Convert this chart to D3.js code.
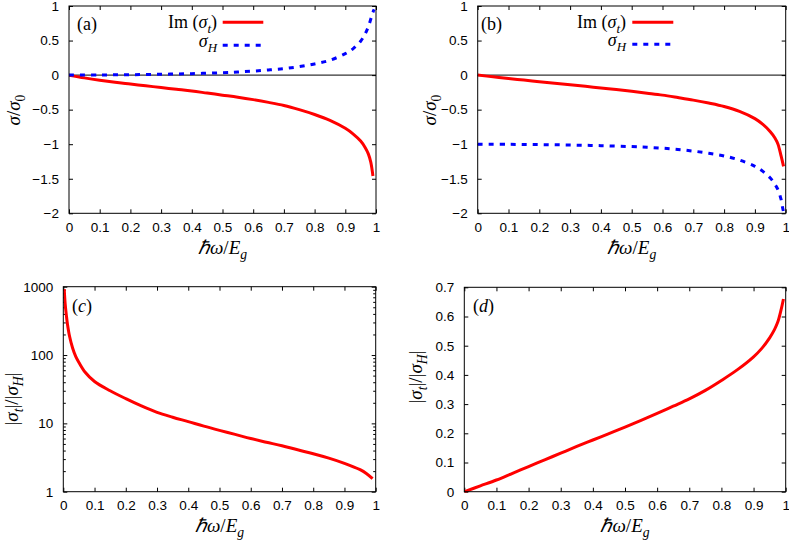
<!DOCTYPE html>
<html><head><meta charset="utf-8">
<script src="https://cdn.jsdelivr.net/npm/d3@7"></script>
<style>
body{margin:0;background:#fff} svg{display:block}
.tk text{font-family:"Liberation Sans", Arial, Helvetica, sans-serif; font-size:13.5px; fill:#000;}
.mt{font-family:"Liberation Serif", "Times New Roman", serif; fill:#000;}
</style>
</head><body>
<svg id="c" width="789" height="542"></svg>
<script>
// ---- data ----
const xTickVals = [0,0.1,0.2,0.3,0.4,0.5,0.6,0.7,0.8,0.9,1];
const xTickLabels = ["0","0.1","0.2","0.3","0.4","0.5","0.6","0.7","0.8","0.9","1"];
const yTickValsAB = [1,0.5,0,-0.5,-1,-1.5,-2];
const yTickLabelsAB = ["1","0.5","0","\u22120.5","\u22121","\u22121.5","\u22122"];
const yTickValsC = [1,10,100,1000];
const yTickLabelsC = ["1","10","100","1000"];
const yTickValsD = [0,0.1,0.2,0.3,0.4,0.5,0.6,0.7];
const yTickLabelsD = ["0","0.1","0.2","0.3","0.4","0.5","0.6","0.7"];

// panel (a)
const xImA = [0,0.05,0.1,0.15,0.2,0.25,0.3,0.35,0.4,0.45,0.5,0.55,0.6,0.65,0.7,0.75,0.8,0.85,0.9,0.925,0.95,0.965,0.975,0.983,0.99];
const imA  = [0,-0.04,-0.075,-0.105,-0.13,-0.155,-0.18,-0.205,-0.23,-0.26,-0.29,-0.32,-0.355,-0.395,-0.44,-0.5,-0.57,-0.655,-0.77,-0.85,-0.955,-1.05,-1.14,-1.26,-1.46];
const xHA  = [0,0.1,0.2,0.3,0.4,0.5,0.55,0.6,0.65,0.7,0.75,0.8,0.85,0.9,0.925,0.95,0.965,0.975,0.985,0.99,0.994];
const hA   = [0,0.002,0.006,0.012,0.021,0.035,0.045,0.058,0.074,0.093,0.122,0.162,0.215,0.31,0.38,0.49,0.6,0.7,0.84,0.91,0.95];
// panel (b)
const xImB = [0,0.05,0.1,0.15,0.2,0.25,0.3,0.35,0.4,0.45,0.5,0.55,0.6,0.65,0.7,0.75,0.8,0.85,0.9,0.925,0.95,0.965,0.975,0.985,0.993];
const imB  = [0,-0.025,-0.05,-0.072,-0.095,-0.118,-0.14,-0.163,-0.187,-0.21,-0.235,-0.262,-0.29,-0.325,-0.362,-0.405,-0.455,-0.525,-0.63,-0.71,-0.82,-0.91,-1.0,-1.17,-1.32];
const xHB  = [0,0.1,0.2,0.3,0.4,0.5,0.55,0.6,0.65,0.7,0.75,0.8,0.85,0.9,0.925,0.95,0.965,0.975,0.985,0.99,0.994];
const hB   = [-1,-1.002,-1.006,-1.012,-1.021,-1.035,-1.045,-1.058,-1.075,-1.1,-1.13,-1.17,-1.23,-1.32,-1.39,-1.49,-1.58,-1.66,-1.8,-1.92,-2.0];
// panel (c)
const xRC = [0.003,0.006,0.01,0.013,0.02,0.03,0.04,0.05,0.07,0.1,0.15,0.2,0.25,0.3,0.35,0.4,0.45,0.5,0.55,0.6,0.65,0.7,0.75,0.8,0.85,0.9,0.95,0.97,0.99];
const rC  = [920,560,375,290,188,126,95,78,56,41,30,23,18,14.5,12.3,10.6,9.1,7.9,6.9,6.0,5.3,4.7,4.1,3.6,3.1,2.6,2.1,1.85,1.55];
// panel (d)
const xRD = [0,0.05,0.1,0.15,0.2,0.25,0.3,0.35,0.4,0.45,0.5,0.55,0.6,0.65,0.7,0.75,0.8,0.85,0.9,0.925,0.95,0.965,0.975,0.985,0.993];
const rD  = [0,0.02,0.04,0.063,0.086,0.109,0.132,0.155,0.177,0.199,0.221,0.244,0.268,0.293,0.318,0.347,0.381,0.418,0.462,0.49,0.527,0.555,0.58,0.62,0.66];

const RED = "#ff0000", BLUE = "#0000ff";
const svg = d3.select("#c");

function zip(xs, ys){ return xs.map((x,i)=>[x, ys[i]]); }

// math text helper: parts = [[text, italic, sub], ...]
function mathText(g, parts, size){
  const t = g.append("text").attr("class","mt").style("font-size", size+"px");
  let cur = 0;
  parts.forEach(p=>{
    const [txt, it, sub] = p;
    const target = sub ? size*0.28 : 0;
    t.append("tspan").text(txt)
      .style("font-style", it ? "italic" : "normal")
      .style("font-size", (sub ? size*0.72 : size)+"px")
      .attr("dy", target - cur);
    cur = target;
  });
  return t;
}

let clipId = 0;
function panel(cfg){
  const {l,r,t,b} = cfg.frame;
  const x = d3.scaleLinear().domain([0,1]).range([l,r]);
  const y = cfg.log ? d3.scaleLog().domain(cfg.yDomain).range([b,t]) : d3.scaleLinear().domain(cfg.yDomain).range([b,t]);
  const g = svg.append("g");

  if (cfg.zero) g.append("line").attr("x1",l).attr("x2",r).attr("y1",y(0)).attr("y2",y(0)).attr("stroke","#000").attr("stroke-width",1);

  const fmtX = d => xTickLabels[xTickVals.indexOf(d)];
  const fmtY = d => cfg.yLabels[cfg.yTicks.indexOf(d)];
  const styleAxis = sel => {
    sel.select(".domain").remove();
    sel.attr("class","tk").attr("font-family",null).attr("font-size",null);
    sel.selectAll(".tick line").attr("stroke","#000").attr("stroke-width",1);
  };
  g.append("g").attr("transform",`translate(0,${b})`)
    .call(d3.axisBottom(x).tickValues(xTickVals).tickSize(-4).tickPadding(9).tickFormat(fmtX)).call(styleAxis);
  g.append("g").attr("transform",`translate(0,${t})`)
    .call(d3.axisTop(x).tickValues(xTickVals).tickSize(-4).tickFormat("")).call(styleAxis);
  g.append("g").attr("transform",`translate(${l},0)`)
    .call(d3.axisLeft(y).tickValues(cfg.yTicks).tickSize(-4).tickPadding(10).tickFormat(fmtY)).call(styleAxis);
  g.append("g").attr("transform",`translate(${r},0)`)
    .call(d3.axisRight(y).tickValues(cfg.yTicks).tickSize(-4).tickFormat("")).call(styleAxis);
  if (cfg.log){
    const minor = [];
    [1,10,100].forEach(dec=>{ for(let k=2;k<=9;k++) minor.push(dec*k); });
    g.append("g").attr("transform",`translate(${l},0)`)
      .call(d3.axisLeft(y).tickValues(minor).tickSize(-2.5).tickFormat("")).call(styleAxis);
    g.append("g").attr("transform",`translate(${r},0)`)
      .call(d3.axisRight(y).tickValues(minor).tickSize(-2.5).tickFormat("")).call(styleAxis);
  }

  const cid = "clip"+(clipId++);
  svg.append("clipPath").attr("id",cid).append("rect").attr("x",l).attr("y",t-1).attr("width",r-l+1).attr("height",b-t+2);
  const line = d3.line().x(d=>x(d[0])).y(d=>y(d[1])).curve(d3.curveCatmullRom.alpha(0.5));
  cfg.series.forEach(s=>{
    g.append("path").attr("clip-path",`url(#${cid})`).datum(s.data).attr("d",line)
      .attr("fill","none").attr("stroke",s.color).attr("stroke-width",3)
      .attr("stroke-dasharray", s.dash ? "5,6" : null).attr("stroke-linejoin","round");
  });

  g.append("rect").attr("x",l).attr("y",t).attr("width",r-l).attr("height",b-t)
    .attr("fill","none").attr("stroke","#000").attr("stroke-width",1);

  mathText(g, cfg.plabel, 18).attr("x", cfg.plabelPos[0]).attr("y", cfg.plabelPos[1]);

  mathText(g, [["\u210F",true],["\u03C9",true],["/",false],["E",true],["g",true,true]], 19)
    .attr("x", (l+r)/2).attr("y", cfg.xTitleY).attr("text-anchor","middle");
  const yt = g.append("g").attr("transform",`translate(${cfg.yTitle[0]},${cfg.yTitle[1]}) rotate(-90)`);
  mathText(yt, cfg.yTitleParts, 19).attr("x",0).attr("y",0).attr("text-anchor","middle");

  if (cfg.legend){
    const [tx, ly1, ly2, lx1, lx2] = cfg.legend;
    mathText(g, [["Im",false],[" (",false],["\u03C3",true],["t",true,true],[")",false]], 18)
      .attr("x", tx).attr("y", ly1+6).attr("text-anchor","end");
    g.append("line").attr("x1",lx1).attr("x2",lx2).attr("y1",ly1).attr("y2",ly1).attr("stroke",RED).attr("stroke-width",3);
    mathText(g, [["\u03C3",true],["H",true,true]], 18)
      .attr("x", tx).attr("y", ly2+2).attr("text-anchor","end");
    g.append("line").attr("x1",lx1).attr("x2",lx2).attr("y1",ly2).attr("y2",ly2).attr("stroke",BLUE).attr("stroke-width",3).attr("stroke-dasharray","5,6");
  }
}

const sigTitle = [["\u03C3",true],["/",false],["\u03C3",true],["0",false,true]];
const ratioTitle = [["|",false],["\u03C3",true],["t",true,true],["|",false],["/",false],["|",false],["\u03C3",true],["H",true,true],["|",false]];

panel({frame:{l:69,r:376,t:6,b:213.3}, yDomain:[-2,1], yTicks:yTickValsAB, yLabels:yTickLabelsAB, zero:true,
  series:[{data:zip(xImA,imA),color:RED},{data:zip(xHA,hA),color:BLUE,dash:true}],
  plabel:[["(a)",false]], plabelPos:[77,30], xTitleY:254, yTitle:[20,110], yTitleParts:sigTitle,
  legend:[217, 22.3, 45.3, 222.7, 263.3]});
panel({frame:{l:477.7,r:785.7,t:6,b:213.3}, yDomain:[-2,1], yTicks:yTickValsAB, yLabels:yTickLabelsAB, zero:true,
  series:[{data:zip(xImB,imB),color:RED},{data:zip(xHB,hB),color:BLUE,dash:true}],
  plabel:[["(b)",false]], plabelPos:[481,30], xTitleY:254, yTitle:[436,110], yTitleParts:sigTitle,
  legend:[626, 22.3, 44.3, 632.3, 673.3]});
panel({frame:{l:63.3,r:375.7,t:286.7,b:491.7}, log:true, yDomain:[1,1000], yTicks:yTickValsC, yLabels:yTickLabelsC,
  series:[{data:zip(xRC,rC),color:RED}],
  plabel:[["(",false],["c",true],[")",false]], plabelPos:[72,312], xTitleY:532, yTitle:[18,399], yTitleParts:ratioTitle});
panel({frame:{l:464.3,r:785.7,t:287.3,b:491.7}, yDomain:[0,0.7], yTicks:yTickValsD, yLabels:yTickLabelsD,
  series:[{data:zip(xRD,rD),color:RED}],
  plabel:[["(",false],["d",true],[")",false]], plabelPos:[473,312], xTitleY:532, yTitle:[422,377], yTitleParts:ratioTitle});
</script>
</body></html>
